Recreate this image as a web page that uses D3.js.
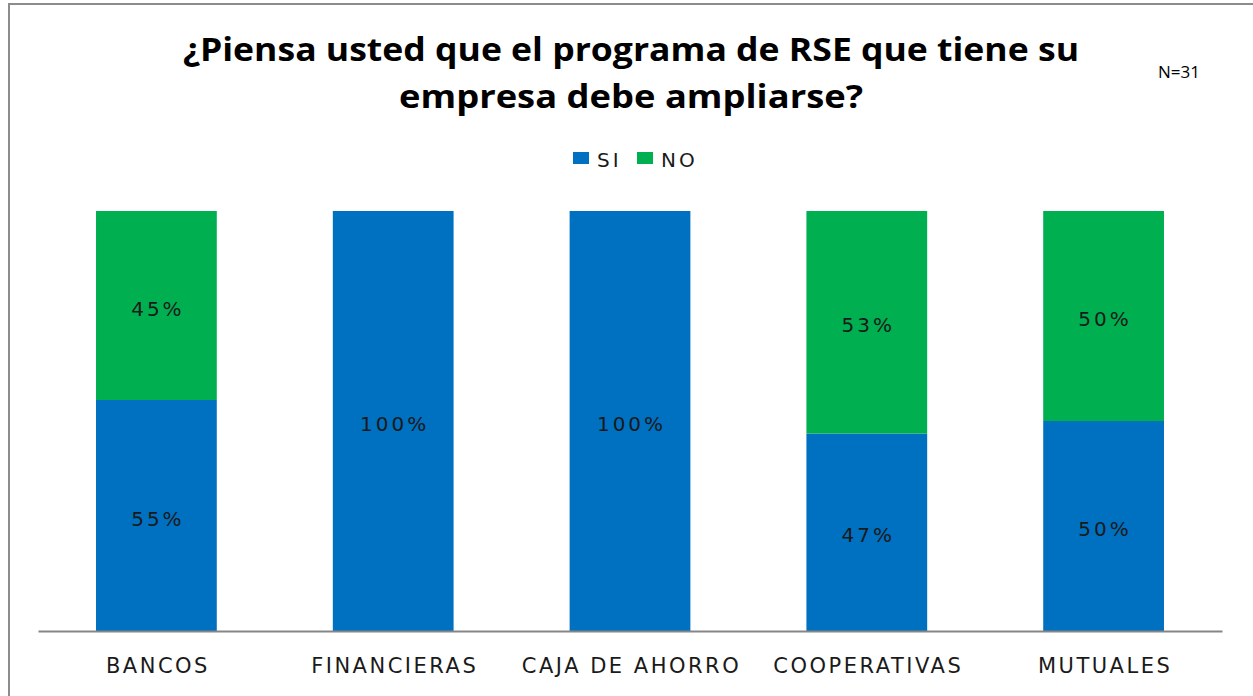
<!DOCTYPE html>
<html>
<head>
<meta charset="utf-8">
<script src="https://cdn.jsdelivr.net/npm/d3@7"></script>
<style>
  body { margin: 0; background: #fff; }
</style>
</head>
<body>
<div id="chart"></div>
<script>
var w = 1253,
	h = 696;

// data
var categories = ["BANCOS", "FINANCIERAS", "CAJA DE AHORRO", "COOPERATIVAS", "MUTUALES"];
var siValues = [0.55, 1.00, 1.00, 0.47, 0.50];
var noValues = [0.45, 0.00, 0.00, 0.53, 0.50];
var seriesNames = ["SI", "NO"];
var titleLines = ["¿Piensa usted que el programa de RSE que tiene su", "empresa debe ampliarse?"];

var colors = d3.scaleOrdinal().domain(seriesNames).range(["#0070C0", "#00B050"]);

var svg = d3.select("#chart").append("svg")
	.attr("width", w)
	.attr("height", h);

// chart frame
svg.append("rect")
	.attr("x", 9).attr("y", 4)
	.attr("width", w + 10).attr("height", h + 10)
	.attr("fill", "none")
	.attr("stroke", "#8c8c8c")
	.attr("stroke-width", 2);

var x = d3.scaleBand().domain(categories).range([38, 1222]).paddingInner(0.49).paddingOuter(0.245);
var y = d3.scaleLinear().domain([0, 1]).range([631, 211]);

var rows = categories.map(function(c, i) { return {cat: c, SI: siValues[i], NO: noValues[i]}; });
var stacked = d3.stack().keys(seriesNames)(rows);

var layers = svg.selectAll("g.layer")
	.data(stacked)
	.enter().append("g")
	.attr("class", "layer")
	.attr("fill", function(d) { return colors(d.key); });

layers.selectAll("rect")
	.data(function(d) { return d.filter(function(p) { return p[1] - p[0] > 0; }); })
	.enter().append("rect")
	.attr("x", function(d) { return x(d.data.cat); })
	.attr("y", function(d) { return y(d[1]); })
	.attr("width", x.bandwidth())
	.attr("height", function(d) { return y(d[0]) - y(d[1]); });

// value labels
layers.selectAll("text")
	.data(function(d) { return d.filter(function(p) { return p[1] - p[0] > 0; }); })
	.enter().append("text")
	.attr("x", function(d) { return x(d.data.cat) + x.bandwidth() / 2 + 1.5; })
	.attr("y", function(d) { return (y(d[0]) + y(d[1])) / 2 + 10; })
	.attr("text-anchor", "middle")
	.attr("font-family", "DejaVu Sans")
	.attr("font-size", "20px")
	.attr("letter-spacing", "3px")
	.attr("fill", "#1a1a1a")
	.text(function(d) { return Math.round((d[1] - d[0]) * 100) + "%"; });

// x axis
var xAxis = svg.append("g")
	.attr("transform", "translate(0," + y(0) + ")")
	.call(d3.axisBottom(x).tickSize(0).tickPadding(0));
xAxis.select(".domain").attr("stroke", "#868686").attr("stroke-width", 2);
xAxis.selectAll("text")
	.attr("y", 42)
	.attr("dy", 0)
	.attr("dx", "1.5px")
	.attr("font-family", "DejaVu Sans")
	.attr("font-size", "21px")
	.attr("letter-spacing", "2.5px")
	.attr("fill", "#1a1a1a");

// title
var titleWidths = [896, 464];
svg.append("g").selectAll("text")
	.data(titleLines)
	.enter().append("text")
	.attr("x", 631)
	.attr("y", function(d, i) { return 61 + i * 47; })
	.attr("text-anchor", "middle")
	.attr("font-family", "Open Sans")
	.attr("font-weight", "bold")
	.attr("font-size", "33px")
	.attr("textLength", function(d, i) { return titleWidths[i]; })
	.attr("lengthAdjust", "spacingAndGlyphs")
	.attr("fill", "#000")
	.text(function(d) { return d; });

svg.append("text")
	.attr("x", 1158).attr("y", 78)
	.attr("font-family", "Open Sans")
	.attr("font-size", "17px")
	.attr("fill", "#000")
	.text("N=31");

// legend
var legend = svg.append("g").attr("transform", "translate(573,152)");
var legendX = [0, 64];
legend.selectAll("rect")
	.data(seriesNames)
	.enter().append("rect")
	.attr("x", function(d, i) { return legendX[i]; })
	.attr("y", 0)
	.attr("width", 16).attr("height", 12)
	.attr("fill", function(d) { return colors(d); });
legend.selectAll("text")
	.data(seriesNames)
	.enter().append("text")
	.attr("x", function(d, i) { return legendX[i] + 24; })
	.attr("y", 15)
	.attr("font-family", "DejaVu Sans")
	.attr("font-size", "20px")
	.attr("letter-spacing", "3px")
	.attr("fill", "#1a1a1a")
	.text(function(d) { return d; });
</script>
</body>
</html>
